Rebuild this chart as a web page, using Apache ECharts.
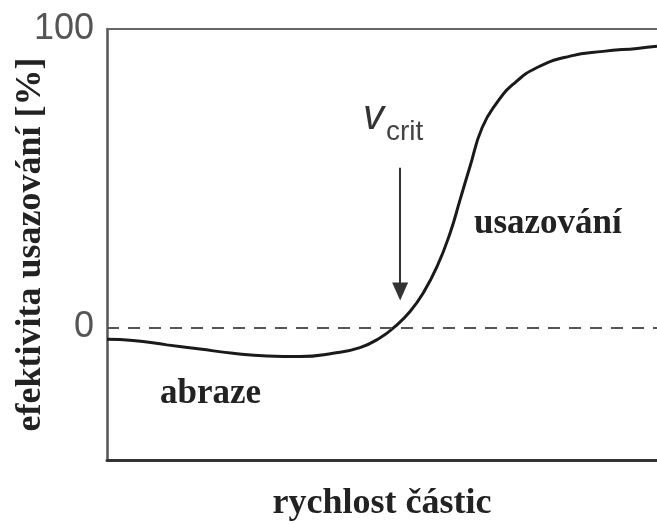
<!DOCTYPE html>
<html lang="cs">
<head>
    <meta charset="utf-8">
    <title>efektivita usazování</title>
    <script src="https://cdn.jsdelivr.net/npm/echarts@6/dist/echarts.min.js"></script>
    <style>
        html, body { margin: 0; padding: 0; background: #fff; }
        #main { width: 657px; height: 525px; }
    </style>
</head>
<body>
    <div id="main"></div>
    <script type="text/javascript">
    // rychlost částic (relativní 0..100) a efektivita usazování [%]
    var rychlost = [0, 4.7, 10.9, 16.9, 22.9, 29.1, 35.1, 41.1, 46, 49.6, 52.4, 55.1, 57.5, 60, 62.4, 64.2, 66, 68.2, 70.9, 73.8, 78.2, 84.2, 90.2, 96.4, 100];
    var efektivita = [-4.0, -4.4, -5.9, -7.3, -8.7, -9.6, -9.8, -8.7, -6.8, -3.6, 0.3, 5.3, 11.5, 20.3, 31.7, 42.8, 53.9, 66.9, 75.3, 81.4, 87.1, 90.9, 92.5, 93.5, 94.2];
    var yTicks = [0, 100];
    var vCrit = 53.3;          // poloha šipky v_crit
    var sipka = [53.5, 12];    // od / do (osa y)

    var body = rychlost.map(function (x, i) { return [x, efektivita[i]]; });

    var serif = '"Liberation Serif", "Times New Roman", serif';
    var sans = '"Liberation Sans", Arial, sans-serif';

    var myChart = echarts.init(document.getElementById('main'));

    myChart.setOption({
        animation: false,
        grid: { left: 107, right: 0, top: 29, bottom: 65, outerBoundsMode: 'none', containLabel: false },
        xAxis: [{
            type: 'value',
            min: 0, max: 100,
            name: 'rychlost částic',
            nameLocation: 'middle',
            nameGap: 26,
            nameTextStyle: { fontFamily: serif, fontWeight: 'bold', fontSize: 36, color: '#222' },
            axisLine: { onZero: false, lineStyle: { color: '#333', width: 3 } },
            axisTick: { show: false },
            axisLabel: { show: false },
            splitLine: { show: false }
        }, {
            type: 'value',
            position: 'top',
            min: 0, max: 100,
            axisLine: { show: true, onZero: false, lineStyle: { color: '#666', width: 2 } },
            axisTick: { show: false },
            axisLabel: { show: false },
            splitLine: { show: false }
        }],
        yAxis: {
            type: 'value',
            min: -44.5, max: 100,
            name: 'efektivita usazování [%]',
            nameLocation: 'middle',
            nameGap: 58,
            nameMoveOverlap: false,
            nameTextStyle: { fontFamily: serif, fontWeight: 'bold', fontSize: 36, color: '#222' },
            axisLine: { show: true, onZero: false, lineStyle: { color: '#555', width: 2.5 } },
            axisTick: { show: false },
            axisLabel: {
                customValues: yTicks,
                margin: 13,
                fontFamily: sans,
                fontSize: 36,
                color: '#555'
            },
            splitLine: { show: false }
        },
        series: [{
            type: 'line',
            data: body,
            smooth: 0.5,
            showSymbol: false,
            lineStyle: { color: '#1a1a1a', width: 3 },
            markLine: {
                silent: true,
                symbol: ['none', 'none'],
                label: { show: false },
                data: [
                    {
                        yAxis: 0,
                        lineStyle: { color: '#555', width: 2, type: [12, 9] }
                    },
                    [
                        { coord: [vCrit, sipka[0]], symbol: 'none', lineStyle: { color: '#333', width: 2, type: 'solid' } },
                        { coord: [vCrit, sipka[1]], symbol: 'triangle', symbolSize: [16, 18] }
                    ]
                ]
            }
        }],
        graphic: [
            {
                type: 'text', left: 363, top: 96,
                style: { text: 'v', font: 'italic 42px ' + sans, fill: '#333' }
            },
            {
                type: 'text', left: 386, top: 118,
                style: { text: 'crit', font: '28px ' + sans, fill: '#444' }
            },
            {
                type: 'text', left: 474, top: 206,
                style: { text: 'usazování', font: 'bold 35px ' + serif, fill: '#222' }
            },
            {
                type: 'text', left: 160, top: 376,
                style: { text: 'abraze', font: 'bold 35px ' + serif, fill: '#222' }
            }
        ]
    });
    </script>
</body>
</html>
